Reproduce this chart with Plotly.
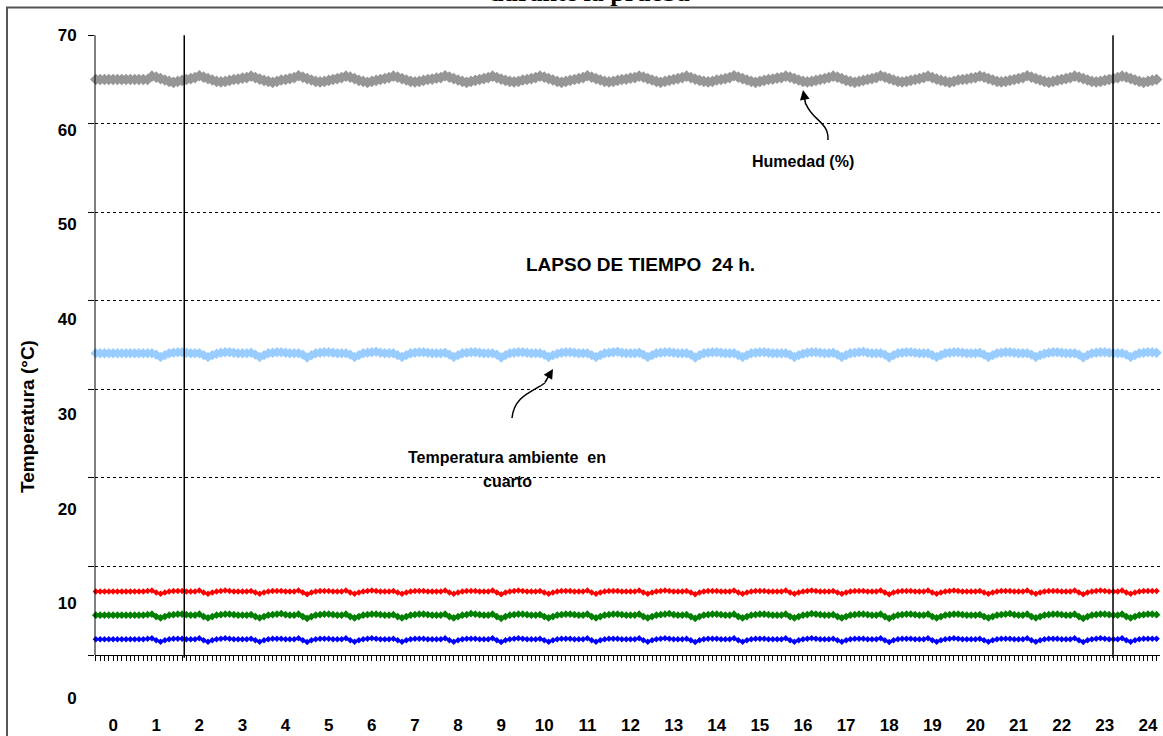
import plotly.graph_objects as go

# ---------------- data ----------------
horas = [round(-0.4 + 0.1 * i, 1) for i in range(247)]
etiquetas_x = [str(h) for h in range(25)]
etiquetas_y = [0, 10, 20, 30, 40, 50, 60, 70]
lineas_verticales = [1.65, 23.19]

humedad = [
    65.3, 65.3, 65.3, 65.3, 65.3, 65.3, 65.3, 65.3, 65.3, 65.3, 65.3, 65.3, 65.3,
    65.65, 65.55, 65.4, 65.25, 65.1, 65.0, 65.1, 65.2, 65.3, 65.4, 65.5,
    65.7, 65.55, 65.4, 65.25, 65.1, 65.05, 65.1, 65.2, 65.3, 65.35, 65.45, 65.5,
    65.65, 65.5, 65.35, 65.2, 65.1, 65.0, 65.1, 65.25, 65.3, 65.4, 65.5,
    65.7, 65.55, 65.4, 65.25, 65.1, 65.05, 65.1, 65.2, 65.3, 65.4, 65.5,
    65.65, 65.55, 65.4, 65.2, 65.1, 65.0, 65.1, 65.2, 65.3, 65.4, 65.5,
    65.65, 65.55, 65.4, 65.25, 65.1, 65.05, 65.1, 65.2, 65.3, 65.35, 65.45, 65.5,
    65.7, 65.55, 65.4, 65.25, 65.1, 65.0, 65.1, 65.2, 65.3, 65.4, 65.5,
    65.65, 65.5, 65.35, 65.2, 65.1, 65.05, 65.1, 65.25, 65.3, 65.4, 65.5,
    65.65, 65.55, 65.4, 65.25, 65.1, 65.0, 65.1, 65.2, 65.3, 65.4, 65.5,
    65.7, 65.55, 65.4, 65.25, 65.1, 65.05, 65.1, 65.2, 65.3, 65.35, 65.45, 65.5,
    65.65, 65.55, 65.4, 65.25, 65.1, 65.0, 65.1, 65.2, 65.3, 65.4, 65.5,
    65.65, 65.5, 65.35, 65.2, 65.1, 65.05, 65.1, 65.25, 65.3, 65.4, 65.5,
    65.7, 65.55, 65.4, 65.25, 65.1, 65.0, 65.1, 65.2, 65.3, 65.35, 65.45, 65.5,
    65.65, 65.55, 65.4, 65.25, 65.1, 65.05, 65.1, 65.2, 65.3, 65.4, 65.5,
    65.65, 65.55, 65.4, 65.2, 65.1, 65.0, 65.1, 65.2, 65.3, 65.4, 65.5,
    65.7, 65.55, 65.4, 65.25, 65.1, 65.05, 65.1, 65.2, 65.3, 65.4, 65.5,
    65.65, 65.5, 65.35, 65.2, 65.1, 65.0, 65.1, 65.25, 65.3, 65.35, 65.45, 65.5,
    65.65, 65.55, 65.4, 65.25, 65.1, 65.05, 65.1, 65.2, 65.3, 65.4, 65.5,
    65.7, 65.55, 65.4, 65.25, 65.1, 65.0, 65.1, 65.2, 65.3, 65.4, 65.5,
    65.65, 65.55, 65.4, 65.25, 65.1, 65.05, 65.1, 65.2, 65.3, 65.4, 65.5,
    65.65, 65.55, 65.4, 65.25, 65.1, 65.0, 65.1, 65.2, 65.3,
]

temp_ambiente = [
    36.4, 36.4, 36.4, 36.4, 36.4, 36.4, 36.4, 36.4, 36.4, 36.4, 36.4, 36.4, 36.4,
    36.4, 36.25, 36.0, 36.2, 36.4, 36.45, 36.5, 36.5, 36.45, 36.4, 36.4,
    36.4, 36.2, 36.0, 36.2, 36.35, 36.45, 36.5, 36.5, 36.45, 36.4, 36.4, 36.4,
    36.45, 36.25, 36.0, 36.2, 36.4, 36.45, 36.5, 36.5, 36.45, 36.4, 36.4,
    36.4, 36.25, 35.95, 36.2, 36.4, 36.45, 36.5, 36.5, 36.45, 36.4, 36.4,
    36.4, 36.25, 36.0, 36.2, 36.4, 36.45, 36.5, 36.55, 36.45, 36.4, 36.4,
    36.4, 36.2, 36.0, 36.2, 36.4, 36.45, 36.5, 36.5, 36.45, 36.4, 36.4, 36.4,
    36.45, 36.25, 36.0, 36.2, 36.4, 36.45, 36.5, 36.5, 36.45, 36.4, 36.4,
    36.4, 36.25, 35.95, 36.2, 36.4, 36.45, 36.5, 36.5, 36.45, 36.4, 36.4,
    36.4, 36.25, 36.0, 36.2, 36.35, 36.45, 36.5, 36.5, 36.45, 36.4, 36.4,
    36.4, 36.2, 36.0, 36.2, 36.4, 36.45, 36.5, 36.55, 36.45, 36.4, 36.4, 36.4,
    36.45, 36.25, 36.0, 36.2, 36.4, 36.45, 36.5, 36.5, 36.45, 36.4, 36.4,
    36.4, 36.25, 35.95, 36.2, 36.4, 36.45, 36.5, 36.5, 36.45, 36.4, 36.4,
    36.4, 36.2, 36.0, 36.2, 36.4, 36.45, 36.5, 36.5, 36.45, 36.4, 36.4, 36.4,
    36.4, 36.25, 36.0, 36.2, 36.35, 36.45, 36.5, 36.5, 36.45, 36.4, 36.4,
    36.45, 36.25, 36.0, 36.2, 36.4, 36.45, 36.5, 36.55, 36.45, 36.4, 36.4,
    36.4, 36.25, 35.95, 36.2, 36.4, 36.45, 36.5, 36.5, 36.45, 36.4, 36.4,
    36.4, 36.2, 36.0, 36.2, 36.4, 36.45, 36.5, 36.5, 36.45, 36.4, 36.4, 36.4,
    36.45, 36.25, 36.0, 36.2, 36.4, 36.45, 36.5, 36.5, 36.45, 36.4, 36.4,
    36.4, 36.25, 36.0, 36.2, 36.35, 36.45, 36.5, 36.5, 36.45, 36.4, 36.4,
    36.4, 36.25, 35.95, 36.2, 36.4, 36.45, 36.5, 36.5, 36.45, 36.4, 36.4,
    36.4, 36.25, 36.0, 36.2, 36.4, 36.45, 36.5, 36.5, 36.45,
]

temp_roja = [
    11.25, 11.25, 11.25, 11.25, 11.25, 11.25, 11.25, 11.25, 11.25, 11.25, 11.25, 11.25, 11.3,
    11.35, 11.15, 11.0, 11.15, 11.25, 11.3, 11.3, 11.3, 11.25, 11.25, 11.25,
    11.35, 11.15, 11.0, 11.15, 11.25, 11.3, 11.35, 11.3, 11.25, 11.25, 11.25, 11.25,
    11.3, 11.15, 11.0, 11.15, 11.25, 11.3, 11.3, 11.3, 11.25, 11.25, 11.25,
    11.35, 11.15, 10.95, 11.15, 11.25, 11.3, 11.3, 11.3, 11.25, 11.25, 11.25,
    11.35, 11.15, 11.0, 11.15, 11.25, 11.3, 11.35, 11.3, 11.25, 11.25, 11.25,
    11.3, 11.15, 11.0, 11.15, 11.25, 11.3, 11.3, 11.3, 11.25, 11.25, 11.25, 11.25,
    11.35, 11.15, 11.0, 11.15, 11.25, 11.3, 11.3, 11.3, 11.25, 11.25, 11.25,
    11.35, 11.15, 10.95, 11.15, 11.25, 11.3, 11.35, 11.3, 11.25, 11.25, 11.25,
    11.3, 11.15, 11.0, 11.15, 11.25, 11.3, 11.3, 11.3, 11.25, 11.25, 11.25,
    11.35, 11.15, 11.0, 11.15, 11.25, 11.3, 11.3, 11.3, 11.25, 11.25, 11.25, 11.25,
    11.35, 11.15, 11.0, 11.15, 11.25, 11.3, 11.35, 11.3, 11.25, 11.25, 11.25,
    11.3, 11.15, 10.95, 11.15, 11.25, 11.3, 11.3, 11.3, 11.25, 11.25, 11.25,
    11.35, 11.15, 11.0, 11.15, 11.25, 11.3, 11.3, 11.3, 11.25, 11.25, 11.25, 11.25,
    11.35, 11.15, 11.0, 11.15, 11.25, 11.3, 11.35, 11.3, 11.25, 11.25, 11.25,
    11.3, 11.15, 11.0, 11.15, 11.25, 11.3, 11.3, 11.3, 11.25, 11.25, 11.25,
    11.35, 11.15, 10.95, 11.15, 11.25, 11.3, 11.3, 11.3, 11.25, 11.25, 11.25,
    11.35, 11.15, 11.0, 11.15, 11.25, 11.3, 11.35, 11.3, 11.25, 11.25, 11.25, 11.25,
    11.3, 11.15, 11.0, 11.15, 11.25, 11.3, 11.3, 11.3, 11.25, 11.25, 11.25,
    11.35, 11.15, 11.0, 11.15, 11.25, 11.3, 11.3, 11.3, 11.25, 11.25, 11.25,
    11.35, 11.15, 10.95, 11.15, 11.25, 11.3, 11.35, 11.3, 11.25, 11.25, 11.25,
    11.35, 11.15, 11.0, 11.15, 11.25, 11.3, 11.3, 11.3, 11.3,
]

temp_verde = [
    8.75, 8.75, 8.75, 8.75, 8.75, 8.75, 8.75, 8.75, 8.75, 8.75, 8.75, 8.75, 8.8,
    8.85, 8.6, 8.45, 8.6, 8.75, 8.8, 8.85, 8.85, 8.8, 8.75, 8.75,
    8.85, 8.6, 8.45, 8.6, 8.75, 8.8, 8.85, 8.85, 8.8, 8.75, 8.75, 8.75,
    8.8, 8.6, 8.45, 8.6, 8.75, 8.8, 8.85, 8.9, 8.8, 8.75, 8.75,
    8.85, 8.6, 8.4, 8.6, 8.75, 8.8, 8.85, 8.85, 8.8, 8.75, 8.75,
    8.85, 8.6, 8.45, 8.6, 8.75, 8.8, 8.85, 8.85, 8.8, 8.75, 8.75,
    8.8, 8.6, 8.45, 8.6, 8.75, 8.8, 8.85, 8.85, 8.8, 8.75, 8.75, 8.75,
    8.85, 8.6, 8.45, 8.6, 8.75, 8.8, 8.9, 8.85, 8.8, 8.75, 8.75,
    8.85, 8.6, 8.4, 8.6, 8.75, 8.8, 8.85, 8.85, 8.8, 8.75, 8.75,
    8.8, 8.6, 8.45, 8.6, 8.75, 8.8, 8.85, 8.85, 8.8, 8.75, 8.75,
    8.85, 8.6, 8.45, 8.6, 8.75, 8.8, 8.85, 8.85, 8.8, 8.75, 8.75, 8.75,
    8.85, 8.6, 8.45, 8.6, 8.75, 8.8, 8.85, 8.9, 8.8, 8.75, 8.75,
    8.8, 8.6, 8.4, 8.6, 8.75, 8.8, 8.85, 8.85, 8.8, 8.75, 8.75,
    8.85, 8.6, 8.45, 8.6, 8.75, 8.8, 8.85, 8.85, 8.8, 8.75, 8.75, 8.75,
    8.85, 8.6, 8.45, 8.6, 8.75, 8.8, 8.9, 8.85, 8.8, 8.75, 8.75,
    8.8, 8.6, 8.45, 8.6, 8.75, 8.8, 8.85, 8.85, 8.8, 8.75, 8.75,
    8.85, 8.6, 8.4, 8.6, 8.75, 8.8, 8.85, 8.85, 8.8, 8.75, 8.75,
    8.85, 8.6, 8.45, 8.6, 8.75, 8.8, 8.85, 8.85, 8.8, 8.75, 8.75, 8.75,
    8.8, 8.6, 8.45, 8.6, 8.75, 8.8, 8.85, 8.9, 8.8, 8.75, 8.75,
    8.85, 8.6, 8.45, 8.6, 8.75, 8.8, 8.85, 8.85, 8.8, 8.75, 8.75,
    8.85, 8.6, 8.4, 8.6, 8.75, 8.8, 8.85, 8.85, 8.8, 8.75, 8.75,
    8.85, 8.6, 8.45, 8.6, 8.75, 8.8, 8.85, 8.85, 8.8,
]

temp_azul = [
    6.2, 6.2, 6.2, 6.2, 6.2, 6.2, 6.2, 6.2, 6.2, 6.2, 6.2, 6.2, 6.25,
    6.3, 6.1, 5.95, 6.1, 6.2, 6.25, 6.25, 6.25, 6.2, 6.2, 6.2,
    6.3, 6.1, 5.95, 6.1, 6.2, 6.25, 6.3, 6.25, 6.2, 6.2, 6.2, 6.2,
    6.25, 6.1, 5.95, 6.1, 6.2, 6.25, 6.25, 6.25, 6.2, 6.2, 6.2,
    6.3, 6.1, 5.9, 6.1, 6.2, 6.25, 6.25, 6.25, 6.2, 6.2, 6.2,
    6.3, 6.1, 5.95, 6.1, 6.2, 6.25, 6.3, 6.25, 6.2, 6.2, 6.2,
    6.25, 6.1, 5.95, 6.1, 6.2, 6.25, 6.25, 6.25, 6.2, 6.2, 6.2, 6.2,
    6.3, 6.1, 5.95, 6.1, 6.2, 6.25, 6.25, 6.25, 6.2, 6.2, 6.2,
    6.3, 6.1, 5.9, 6.1, 6.2, 6.25, 6.3, 6.25, 6.2, 6.2, 6.2,
    6.25, 6.1, 5.95, 6.1, 6.2, 6.25, 6.25, 6.25, 6.2, 6.2, 6.2,
    6.3, 6.1, 5.95, 6.1, 6.2, 6.25, 6.25, 6.25, 6.2, 6.2, 6.2, 6.2,
    6.3, 6.1, 5.95, 6.1, 6.2, 6.25, 6.3, 6.25, 6.2, 6.2, 6.2,
    6.25, 6.1, 5.9, 6.1, 6.2, 6.25, 6.25, 6.25, 6.2, 6.2, 6.2,
    6.3, 6.1, 5.95, 6.1, 6.2, 6.25, 6.25, 6.25, 6.2, 6.2, 6.2, 6.2,
    6.3, 6.1, 5.95, 6.1, 6.2, 6.25, 6.3, 6.25, 6.2, 6.2, 6.2,
    6.25, 6.1, 5.95, 6.1, 6.2, 6.25, 6.25, 6.25, 6.2, 6.2, 6.2,
    6.3, 6.1, 5.9, 6.1, 6.2, 6.25, 6.25, 6.25, 6.2, 6.2, 6.2,
    6.3, 6.1, 5.95, 6.1, 6.2, 6.25, 6.3, 6.25, 6.2, 6.2, 6.2, 6.2,
    6.25, 6.1, 5.95, 6.1, 6.2, 6.25, 6.25, 6.25, 6.2, 6.2, 6.2,
    6.3, 6.1, 5.95, 6.1, 6.2, 6.25, 6.25, 6.25, 6.2, 6.2, 6.2,
    6.3, 6.1, 5.9, 6.1, 6.2, 6.25, 6.3, 6.25, 6.2, 6.2, 6.2,
    6.3, 6.1, 5.95, 6.1, 6.2, 6.25, 6.25, 6.25, 6.25,
]

for serie in (humedad, temp_ambiente, temp_roja, temp_verde, temp_azul):
    assert len(serie) == len(horas), len(serie)

# ---------------- layout geometry ----------------
W, H = 1163, 736
L, R, T, B = 95, 3, 35, 38
PW, PH = W - L - R, H - T - B
X_RANGE = [-0.42, 24.28]
Y_RANGE = [0, 70]
Y2_RANGE = [-4.85, 70.02]


def px(p):
    return (p - L) / PW


def py(p):
    return (H - B - p) / PH


FONT = "Liberation Sans, Arial, sans-serif"

fig = go.Figure()

series = [
    (humedad, "#969696", 4, 9),
    (temp_ambiente, "#99CCFF", 3, 8),
    (temp_roja, "#FF0000", 2, 5),
    (temp_verde, "#008000", 2.5, 6),
    (temp_azul, "#0000FF", 2, 5),
]
for vals, color, lw, ms in series:
    fig.add_trace(go.Scatter(
        x=horas, y=vals, mode="lines+markers",
        line=dict(color=color, width=lw),
        marker=dict(symbol="diamond", size=ms, color=color),
        showlegend=False, hoverinfo="skip", cliponaxis=False,
    ))

# helper trace so the secondary axes are realised
fig.add_trace(go.Scatter(x=[None], y=[None], xaxis="x2", yaxis="y2",
                         showlegend=False, hoverinfo="skip"))

shapes = []
shapes.append(dict(type="line", xref="paper", yref="y2", x0=0, x1=0, y0=0, y1=70,
                   line=dict(color="black", width=1)))
for xv in lineas_verticales:
    shapes.append(dict(type="line", xref="x", yref="y2", x0=xv, x1=xv, y0=-0.3, y1=70,
                       line=dict(color="black", width=1.5)))
shapes.append(dict(type="rect", xref="paper", yref="paper",
                   x0=px(7), x1=px(1180), y0=py(760), y1=py(7.5),
                   line=dict(color="#555555", width=2), layer="below"))
shapes.append(dict(type="path", xref="paper", yref="paper",
                   path=f"M {px(828)},{py(140)} C {px(829)},{py(122)} {px(812)},{py(120)} {px(806)},{py(104)}",
                   line=dict(color="black", width=1.5)))
shapes.append(dict(type="path", xref="paper", yref="paper",
                   path=f"M {px(512)},{py(418)} C {px(514)},{py(396)} {px(532)},{py(392)} {px(545)},{py(383)}",
                   line=dict(color="black", width=1.5)))


def texto(t, x, y, size, angle=0, family=FONT):
    return dict(text=t, xref="paper", yref="paper", x=px(x), y=py(y),
                xanchor="center", yanchor="middle", showarrow=False, textangle=angle,
                font=dict(family=family, size=size, color="black", weight="bold"))


annotations = [
    texto("LAPSO DE TIEMPO\u00a0 24 h.", 640, 264, 19),
    texto("Humedad (%)", 803, 161, 16),
    texto("Temperatura ambiente\u00a0 en", 507, 458, 16),
    texto("cuarto", 507, 481, 16),
    texto("Temperatura (°C)", 28, 417, 19, angle=-90),
    dict(text="durante la prueba", xref="paper", yref="paper",
         x=px(589), y=py(9.5), xanchor="center", yanchor="bottom", showarrow=False,
         font=dict(family="Liberation Serif, Times New Roman, serif", size=26,
                   color="black", weight="bold")),
    dict(text="", xref="paper", yref="paper", x=px(803), y=py(90),
         ax=3, ay=16, showarrow=True, arrowhead=2, arrowsize=1.3,
         arrowwidth=1.5, arrowcolor="black", standoff=0),
    dict(text="", xref="paper", yref="paper", x=px(553), y=py(369),
         ax=-9, ay=15, showarrow=True, arrowhead=2, arrowsize=1.3,
         arrowwidth=1.5, arrowcolor="black", standoff=0),
]

fig.update_layout(
    width=W, height=H,
    margin=dict(l=L, r=R, t=T, b=B, pad=0, autoexpand=False),
    paper_bgcolor="white", plot_bgcolor="white",
    showlegend=False,
    font=dict(family=FONT, color="black"),
    xaxis=dict(
        range=X_RANGE, tickmode="array",
        tickvals=list(range(25)), ticktext=etiquetas_x,
        ticks="outside", ticklen=12, tickcolor="rgba(0,0,0,0)",
        showgrid=False, zeroline=False, showline=False, automargin=False,
        tickfont=dict(family=FONT, size=17, color="black", weight="bold"),
    ),
    xaxis2=dict(
        overlaying="x", anchor="free", position=py(655), side="bottom",
        range=X_RANGE, tickmode="linear", tick0=-0.4, dtick=0.1,
        ticks="outside", ticklen=5, tickwidth=1, tickcolor="black",
        showticklabels=False, showgrid=False, zeroline=False, automargin=False,
        showline=True, linecolor="black", linewidth=1,
    ),
    yaxis=dict(
        range=Y_RANGE, tickmode="array",
        tickvals=etiquetas_y, ticktext=[str(v) for v in etiquetas_y],
        ticks="outside", ticklen=14, tickcolor="rgba(0,0,0,0)",
        showgrid=False, zeroline=False, showline=False, automargin=False,
        tickfont=dict(family=FONT, size=17, color="black", weight="bold"),
    ),
    yaxis2=dict(
        overlaying="y", side="left", anchor="x",
        range=Y2_RANGE, tickmode="array", tickvals=[0, 10, 20, 30, 40, 50, 60, 70],
        ticks="outside", ticklen=6, tickcolor="black", automargin=False,
        showticklabels=False, showgrid=True, gridcolor="black",
        griddash="dot", gridwidth=1, zeroline=False, showline=False,
    ),
    shapes=shapes,
    annotations=annotations,
)

fig.write_html(
    "out.html",
    config={"displayModeBar": False},
    post_script="document.body.style.margin='0';document.body.style.overflow='hidden';",
)
